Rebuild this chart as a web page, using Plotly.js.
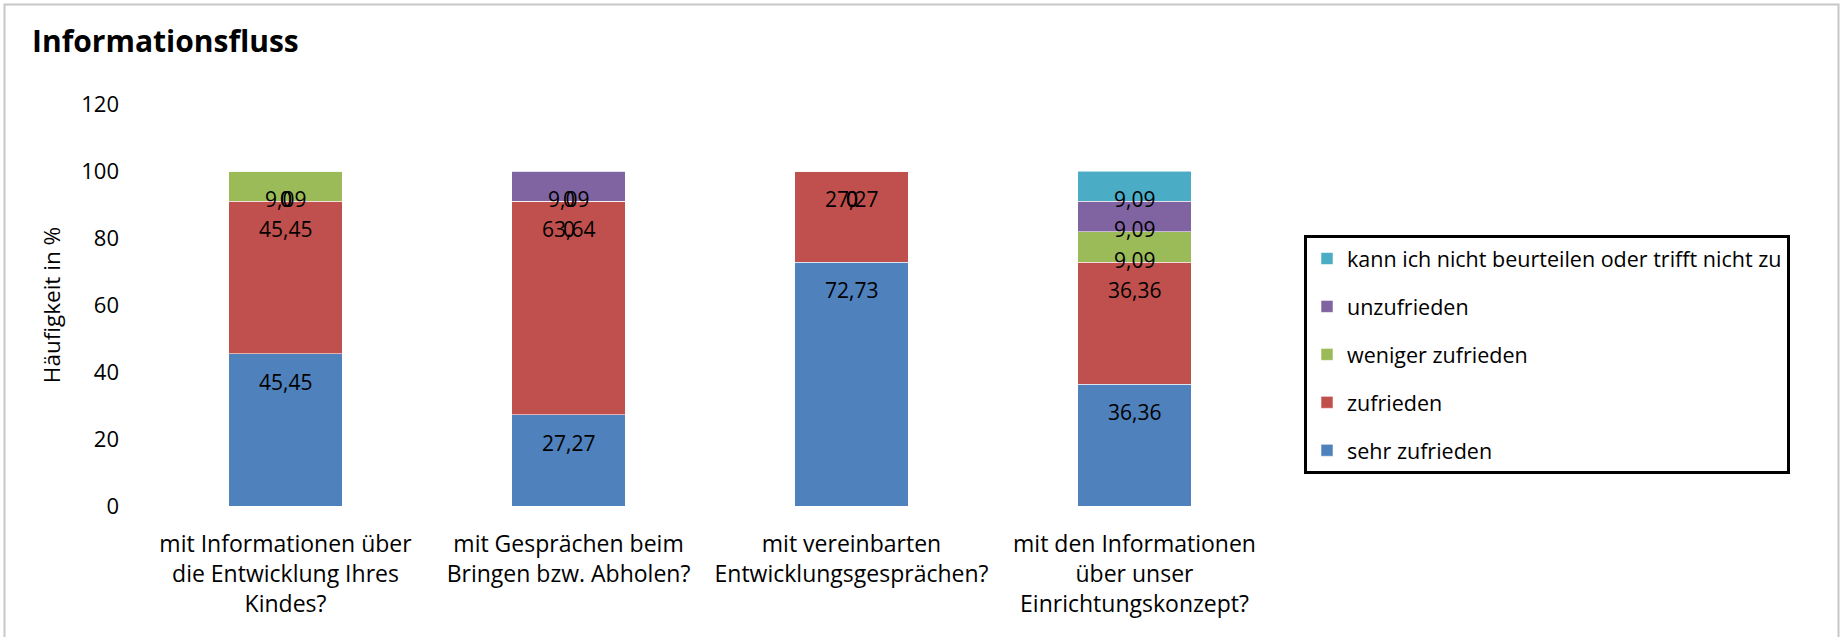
<!DOCTYPE html>
<html>
<head>
<meta charset="utf-8">
<script src="https://cdn.plot.ly/plotly-3.0.1.min.js"></script>
<style>
  html, body { margin: 0; padding: 0; background: #ffffff; }
  #chart { width: 1841px; height: 637px; }
</style>
</head>
<body>
<div id="chart"></div>
<script>
// ---- data ----
const categories = [
  "mit Informationen über<br>die Entwicklung Ihres<br>Kindes?",
  "mit Gesprächen beim<br>Bringen bzw. Abholen?",
  "mit vereinbarten<br>Entwicklungsgesprächen?",
  "mit den Informationen<br>über unser<br>Einrichtungskonzept?"
];
const seriesNames = [
  "sehr zufrieden",
  "zufrieden",
  "weniger zufrieden",
  "unzufrieden",
  "kann ich nicht beurteilen oder trifft nicht zu"
];
const sehrZufrieden = [45.45, 27.27, 72.73, 36.36];
const zufrieden = [45.45, 63.64, 27.27, 36.36];
const wenigerZufrieden = [9.09, 0, 0, 9.09];
const unzufrieden = [0, 9.09, 0, 9.09];
const kannNicht = [0, 0, 0, 9.09];
const yTickValues = [0, 20, 40, 60, 80, 100, 120];

const seriesValues = [sehrZufrieden, zufrieden, wenigerZufrieden, unzufrieden, kannNicht];
const colors = ["#4F81BD", "#C0504D", "#9BBB59", "#8064A2", "#4BACC6"];

// ---- geometry ----
const W = 1841, H = 637;
const M = { l: 144, r: 565, t: 104, b: 131, pad: 0 };
const pw = W - M.l - M.r, ph = H - M.t - M.b;
const px2x = px => (px - M.l) / pw;
const px2y = py => (H - M.b - py) / ph;

const FONT = "Open Sans, Liberation Sans, Arial, sans-serif";

const traces = seriesNames.map((name, s) => ({
  type: "bar",
  name: name,
  x: categories,
  y: seriesValues[s],
  marker: { color: colors[s], line: { color: "rgba(255,255,255,0.55)", width: 1 } },
  legendgroup: "g" + s,
  legendrank: 1000 - s,
  hoverinfo: "skip"
}));

const fmt = v => v === 0 ? "0" : v.toFixed(2).replace(".", ",");

const annotations = [];
categories.forEach((cat, i) => {
  let cum = 0;
  seriesValues.forEach((vals, s) => {
    cum += vals[i];
    annotations.push({
      x: cat, y: cum, xref: "x", yref: "y",
      text: fmt(vals[i]),
      showarrow: false,
      yshift: -28,
      yanchor: "middle",
      font: { family: FONT, size: 21, color: "#000000" }
    });
  });
});

const layout = {
  width: W, height: H,
  margin: M,
  paper_bgcolor: "#ffffff",
  plot_bgcolor: "#ffffff",
  barmode: "stack",
  bargap: 0.6,
  font: { family: FONT, color: "#000000" },
  title: {
    text: "<b>Informationsfluss</b>",
    font: { family: FONT, size: 30, color: "#000000" },
    x: 32 / W, xref: "container", xanchor: "left",
    y: 1 - 41 / H, yref: "container", yanchor: "middle"
  },
  xaxis: {
    type: "category",
    showgrid: false, zeroline: false, showline: false,
    ticks: "",
    tickfont: { family: FONT, size: 23, color: "#000000" },
    ticklabelstandoff: 22
  },
  yaxis: {
    range: [0, 120],
    tickvals: yTickValues,
    ticktext: yTickValues.map(String),
    showgrid: false, zeroline: false, showline: false,
    ticks: "",
    tickfont: { family: FONT, size: 22, color: "#000000" },
    ticklabelstandoff: 24,
    title: { text: "Häufigkeit in %", font: { family: FONT, size: 22.5, color: "#000000" }, standoff: 14 }
  },
  legend: {
    x: px2x(1304), y: px2y(235), xanchor: "left", yanchor: "top",
    xref: "paper", yref: "paper",
    traceorder: "grouped",
    tracegroupgap: 17,
    bordercolor: "#000000", borderwidth: 3,
    bgcolor: "#ffffff",
    font: { family: FONT, size: 21.5, color: "#000000" }
  },
  shapes: [{
    type: "rect", xref: "paper", yref: "paper",
    x0: px2x(4.5), x1: px2x(1838.5), y0: px2y(660), y1: px2y(4.5),
    line: { color: "#c8c8c8", width: 2 }, fillcolor: "rgba(0,0,0,0)", layer: "below"
  }],
  annotations: annotations,
  showlegend: true
};

Plotly.newPlot("chart", traces, layout, { displayModeBar: false, staticPlot: true });
</script>
</body>
</html>
